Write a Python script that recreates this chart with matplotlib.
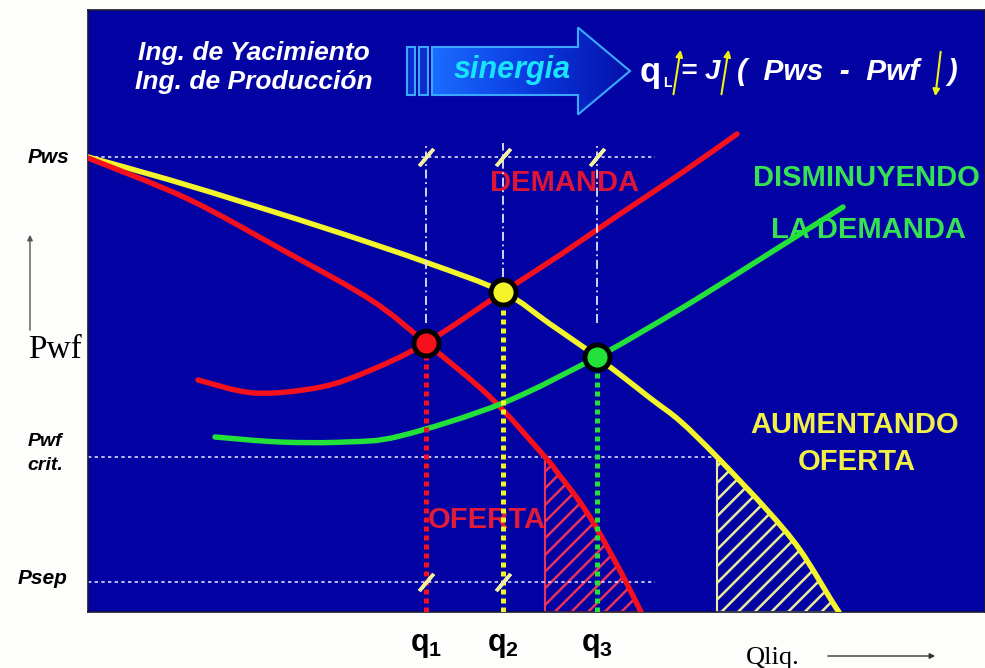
import matplotlib.pyplot as plt
import numpy as np
from matplotlib.patches import FancyArrow, Rectangle, PathPatch
from matplotlib.path import Path
from matplotlib.colors import LinearSegmentedColormap

plt.rcParams['font.family'] = ['Liberation Sans', 'DejaVu Sans']
plt.rcParams['hatch.linewidth'] = 1.8
plt.rcParams['mathtext.fontset'] = 'custom'
plt.rcParams['mathtext.rm'] = 'Liberation Sans:bold'
plt.rcParams['mathtext.it'] = 'Liberation Sans:bold'
plt.rcParams['mathtext.bf'] = 'Liberation Sans:bold'

BG = '#0303a3'
RED = '#f4101c'
YELLOW = '#f4f42a'
GREEN = '#22e23a'

# niveles de presion
P_WS = 45.5
P_WF_CRIT = 15.5
P_SEP = 3.0

# curva de oferta (IPR) actual
oferta_q = [0, 10.0, 20.0, 28.3, 33.8, 40.2, 45.7, 47.2, 48.9, 50.5, 52.2, 53.7, 55.3]
oferta_p = [45.4, 41.3, 35.9, 31.2, 26.9, 21.5, 15.5, 13.6, 11.4, 9.0, 6.0, 3.2, 0.0]

# oferta aumentada
oferta2_q = [0, 8.2, 16.7, 25.2, 34.0, 41.5, 46.2, 50.9, 56.2, 59.2, 62.9, 67.9, 71.2, 74.5, 75.1]
oferta2_p = [45.5, 43.2, 40.6, 37.9, 34.9, 32.0, 28.8, 25.5, 21.4, 19.1, 15.5, 10.2, 6.2, 0.9, 0.0]

# curva de demanda
demanda_q = [11.0, 16.7, 23.3, 28.3, 33.8, 41.5, 47.2, 53.2, 59.2, 64.9]
demanda_p = [23.2, 21.9, 22.5, 24.2, 26.9, 32.0, 35.7, 39.8, 43.8, 47.8]

# demanda disminuida
demanda2_q = [12.7, 19.2, 25.7, 31.2, 41.5, 50.9, 56.2, 61.2, 68.2, 75.5]
demanda2_p = [17.5, 17.0, 17.0, 17.6, 20.9, 25.5, 28.5, 31.5, 35.9, 40.5]

# puntos de operacion
op_q = [33.8, 41.5, 50.9]
op_p = [26.9, 32.0, 25.5]
op_colors = [RED, YELLOW, GREEN]
op_labels = [r'$\mathbf{q_1}$', r'$\mathbf{q_2}$', r'$\mathbf{q_3}$']
dash_top = 46.9
dash_bottom = [28.9, 33.5, 28.9]


def smooth_path(xs, ys):
    # curva bezier que pasa por los puntos leidos
    pts = np.column_stack([xs, ys])
    verts = [pts[0]]
    codes = [Path.MOVETO]
    n = len(pts)
    for i in range(n - 1):
        p0 = pts[max(i - 1, 0)]
        p1 = pts[i]
        p2 = pts[i + 1]
        p3 = pts[min(i + 2, n - 1)]
        verts += [p1 + (p2 - p0) / 6, p2 - (p3 - p1) / 6, p2]
        codes += [Path.CURVE4] * 3
    return Path(verts, codes)


fig = plt.figure(figsize=(9.85, 6.68), dpi=100)
fig.patch.set_facecolor('#fdfdfb')
ax = fig.add_axes([88/985, 56/668, 897/985, 602/668])
ax.set_facecolor(BG)
ax.set_xlim(0, 89.7)
ax.set_ylim(0, 60.2)
ax.set_xticks([])
ax.set_yticks([])
for s in ax.spines.values():
    s.set_color('#1a1a30')
    s.set_linewidth(1.2)


# zonas rayadas bajo Pwf crit
def hatch_zone(q, p, color):
    qq = [x for x, y in zip(q, p) if y <= P_WF_CRIT]
    pp = [y for y in p if y <= P_WF_CRIT]
    xs = [qq[0]] + qq + [qq[0]]
    ys = [0] + pp + [0]
    ax.fill(xs, ys, facecolor='none', edgecolor=color, hatch='//', lw=1.5, zorder=1)


hatch_zone(oferta_q, oferta_p, '#e8345a')
hatch_zone(oferta2_q, oferta2_p, '#ecec9a')

# lineas horizontales punteadas
ax.plot([0, 56.7], [P_WS, P_WS], color='#d8dcff', lw=1.2, ls=(0, (2, 2)), zorder=2)
ax.plot([0, 62.9], [P_WF_CRIT, P_WF_CRIT], color='#d8dcff', lw=1.2, ls=(0, (2, 2)), zorder=2)
ax.plot([0, 56.7], [P_SEP, P_SEP], color='#d8dcff', lw=1.2, ls=(0, (2, 2)), zorder=2)

# textos internos
ax.text(47.7, 42.9, 'DEMANDA', color='#e01434', fontsize=21, fontweight='bold',
        ha='center', va='center', zorder=2)
ax.text(39.9, 9.2, 'OFERTA', color='#e01c3a', fontsize=21, fontweight='bold',
        ha='center', va='center', zorder=2)
ax.text(77.8, 43.4, 'DISMINUYENDO', color='#34e254', fontsize=21, fontweight='bold',
        ha='center', va='center', zorder=2, clip_on=False)
ax.text(78.0, 38.2, 'LA DEMANDA', color='#34e254', fontsize=21, fontweight='bold',
        ha='center', va='center', zorder=2)
ax.text(76.7, 18.7, 'AUMENTANDO', color='#f2f046', fontsize=21, fontweight='bold',
        ha='center', va='center', zorder=2)
ax.text(76.9, 15.0, 'OFERTA', color='#f2f046', fontsize=21, fontweight='bold',
        ha='center', va='center', zorder=2)

# curvas
for q, p, c in [(oferta2_q, oferta2_p, YELLOW), (oferta_q, oferta_p, RED),
                (demanda_q, demanda_p, RED), (demanda2_q, demanda2_p, GREEN)]:
    ax.add_patch(PathPatch(smooth_path(q, p), fill=False, edgecolor=c, lw=3.9,
                           capstyle='round', zorder=3))

# verticales en cada punto de operacion
for q, p, c, db in zip(op_q, op_p, op_colors, dash_bottom):
    ax.plot([q, q], [db, dash_top], color='#dfe4ff', lw=1.3, ls=(0, (5, 2, 1, 2)), zorder=4)
    ax.plot([q, q], [0, p], color=c, lw=3.6, ls=(0, (1, 0.8)), zorder=4)
    ax.plot(q, p, 'o', ms=18, mfc=c, mec='black', mew=3.5, zorder=6)

# marcas "/" sobre Pws y Psep
ax.plot(op_q, [P_WS] * 3, ls='none', marker=(2, 2, -40), ms=16, mec='#f2f0a0', mew=2.5, zorder=5)
ax.plot(op_q[:2], [P_SEP] * 2, ls='none', marker=(2, 2, -40), ms=16, mec='#f2f0a0', mew=2.5, zorder=5)

for q, lab in zip(op_q, op_labels):
    ax.text(q, -3.3, lab, fontsize=22, ha='center', va='center', clip_on=False)

# etiquetas del eje de presion
ax.text(-4.0, 45.5, 'Pws', fontsize=15, fontweight='bold', style='italic',
        ha='center', va='center', clip_on=False)
ax.text(-3.3, 26.2, 'Pwf', fontsize=24, family=['Liberation Serif', 'DejaVu Serif'],
        ha='center', va='center', clip_on=False)
ax.text(-4.3, 17.1, 'Pwf', fontsize=14, fontweight='bold', style='italic',
        ha='center', va='center', clip_on=False)
ax.text(-4.3, 14.6, 'crit.', fontsize=14, fontweight='bold', style='italic',
        ha='center', va='center', clip_on=False)
ax.text(-4.5, 3.4, 'Psep', fontsize=15, fontweight='bold', style='italic',
        ha='center', va='center', clip_on=False)
ax.annotate('', xy=(-5.8, 38.0), xytext=(-5.8, 27.9), annotation_clip=False,
            arrowprops=dict(arrowstyle='-|>', color='#555555', lw=1.0, mutation_scale=8))

ax.text(68.5, -4.6, 'Qliq.', fontsize=19, family=['Liberation Serif', 'DejaVu Serif'],
        ha='center', va='center', clip_on=False)
ax.annotate('', xy=(85.0, -4.4), xytext=(73.7, -4.4), annotation_clip=False,
            arrowprops=dict(arrowstyle='-|>', color='#333333', lw=1.0, mutation_scale=8))

# encabezado
ax.text(16.6, 55.9, 'Ing. de Yacimiento', color='white', fontsize=19, fontweight='bold',
        style='italic', ha='center', va='center')
ax.text(16.6, 53.0, 'Ing. de Producción', color='white', fontsize=19, fontweight='bold',
        style='italic', ha='center', va='center')

for x0, w in [(31.9, 0.8), (33.1, 0.9)]:
    ax.add_patch(Rectangle((x0, 51.7), w, 4.8, facecolor='#0a2cd0', edgecolor='#3aa8ff', lw=1.5))
arrow = FancyArrow(34.4, 54.1, 19.8, 0, width=4.8, head_width=8.7, head_length=5.2,
                   length_includes_head=True, facecolor='none', edgecolor='#3aa8ff', lw=1.5, zorder=3)
ax.add_patch(arrow)
grad = np.linspace(0, 1, 200).reshape(1, -1)
cmap = LinearSegmentedColormap.from_list('sin', ['#1a6cff', '#0a3ae0', '#0510a8'])
img = ax.imshow(grad, extent=[34.4, 54.2, 49.7, 58.5], cmap=cmap, aspect='auto', zorder=2)
img.set_clip_path(arrow)
ax.set_xlim(0, 89.7)
ax.set_ylim(0, 60.2)
ax.text(42.4, 54.2, 'sinergia', color='#18e4ff', fontsize=22, fontweight='bold',
        style='italic', ha='center', va='center', zorder=4)

# ecuacion
ax.text(55.2, 54.0, 'q', color='white', fontsize=25, fontweight='bold', ha='left', va='center')
ax.text(57.5, 52.9, 'L', color='white', fontsize=10, fontweight='bold', ha='left', va='center')
ax.text(59.3, 54.0, '= J', color='white', fontsize=20, fontweight='bold', style='italic',
        ha='left', va='center')
ax.text(64.9, 54.0, '(  Pws  -  Pwf', color='white', fontsize=21.5, fontweight='bold', style='italic',
        ha='left', va='center')
ax.text(86.0, 54.0, ')', color='white', fontsize=21, fontweight='bold', style='italic',
        ha='left', va='center')
for x0, y0, x1, y1 in [(58.5, 51.5, 59.3, 56.5), (63.3, 51.5, 64.1, 56.5), (85.3, 56.3, 84.7, 51.3)]:
    ax.annotate('', xy=(x1, y1), xytext=(x0, y0),
                arrowprops=dict(arrowstyle='-|>', color='#f0f010', lw=1.5, mutation_scale=10))

fig.savefig('out.png', dpi=100, facecolor=fig.get_facecolor())
